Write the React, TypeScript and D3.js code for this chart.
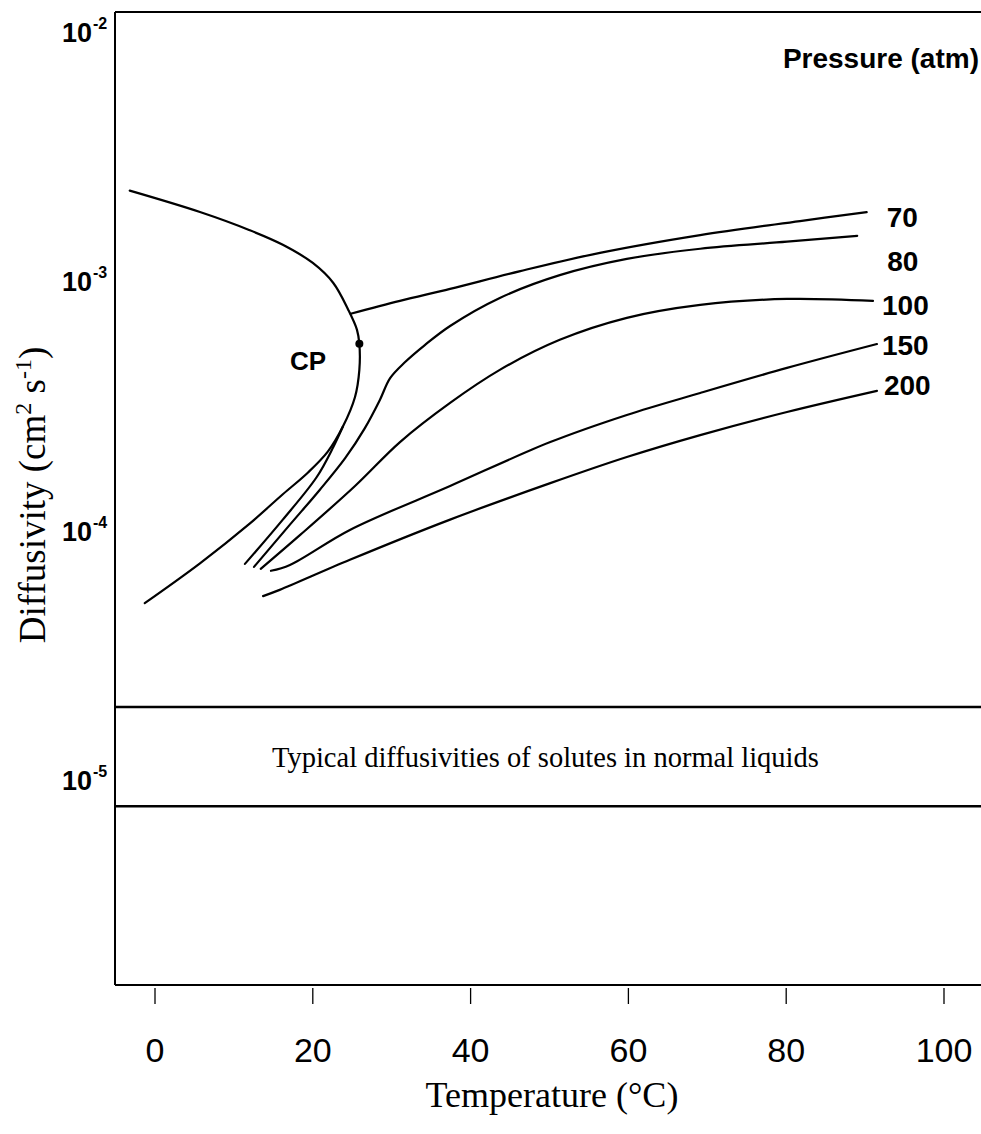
import React from "react";
import * as d3 from "d3";

type Pt = [number, number];

// Axis ticks
const xTicks = [0, 20, 40, 60, 80, 100];
const yDecades = [-2, -3, -4, -5];

// Saturation (vapour/liquid) dome, T (°C), D (cm^2/s)
const saturationCurve: Pt[] = [
  [-3.2, 2.29e-3], [5.7, 1.88e-3], [12.0, 1.59e-3], [16.2, 1.39e-3], [20.0, 1.175e-3],
  [22.6, 9.77e-4], [24.5, 7.62e-4], [25.6, 6.34e-4], [25.9, 5.57e-4], [25.9, 4.38e-4],
  [25.35, 3.41e-4], [23.8, 2.59e-4], [21.9, 2.06e-4], [19.4, 1.70e-4], [16.2, 1.39e-4],
  [12.0, 1.06e-4], [5.7, 7.35e-5], [-1.3, 5.09e-5],
];

// 70 atm: liquid branch (ends on the dome) and vapour branch (starts on the dome)
const liquid70: Pt[] = [
  [11.4, 7.31e-5], [16.2, 1.10e-4], [20.5, 1.63e-4], [22.6, 2.15e-4], [23.8, 2.59e-4],
];
const vapor70: Pt[] = [
  [24.8, 7.35e-4], [31.05, 8.28e-4], [37.4, 9.25e-4], [46.3, 1.09e-3], [56.4, 1.29e-3],
  [69.1, 1.52e-3], [81.75, 1.73e-3], [90.2, 1.88e-3],
];
const p80: Pt[] = [
  [12.55, 7.11e-5], [17.1, 1.05e-4], [20.9, 1.45e-4], [24.1, 1.94e-4], [26.6, 2.56e-4],
  [28.5, 3.32e-4], [29.8, 4.06e-4], [31.7, 4.71e-4], [34.2, 5.51e-4], [37.4, 6.57e-4],
  [43.7, 8.51e-4], [51.3, 1.05e-3], [59.8, 1.22e-3], [69.1, 1.34e-3], [80.1, 1.43e-3],
  [89.0, 1.51e-3],
];
const p100: Pt[] = [
  [13.4, 6.98e-5], [18.4, 9.55e-5], [25.35, 1.50e-4], [31.05, 2.25e-4], [37.4, 3.23e-4],
  [43.7, 4.38e-4], [51.3, 5.78e-4], [59.8, 7.08e-4], [69.1, 7.98e-4], [80.1, 8.43e-4],
  [91.0, 8.28e-4],
];
const p150: Pt[] = [
  [14.7, 6.86e-5], [17.1, 7.24e-5], [24.7, 1.0e-4], [37.4, 1.50e-4], [50.1, 2.25e-4],
  [59.8, 2.89e-4], [69.1, 3.54e-4], [80.1, 4.46e-4], [91.5, 5.56e-4],
];
const p200: Pt[] = [
  [13.7, 5.43e-5], [15.8, 5.75e-5], [24.7, 7.59e-5], [37.4, 1.10e-4], [50.1, 1.54e-4],
  [59.8, 1.96e-4], [69.1, 2.40e-4], [80.1, 2.97e-4], [91.5, 3.61e-4],
];

const pressureLabels = ["70", "80", "100", "150", "200"];
const criticalPoint: Pt = [25.9, 5.57e-4];
const liquidBand = [1.95e-5, 7.8e-6];

export default function App() {
  const W = 981;
  const H = 1134;
  const left = 115, right = 981, top = 12, bottom = 985;

  const x = d3.scaleLinear().domain([-5.07, 104.69]).range([left, right]);
  const y = d3.scaleLog().domain([Math.pow(10, -5.824), Math.pow(10, -1.924)]).range([bottom, top]);

  const line = d3
    .line<Pt>()
    .x((d) => x(d[0]))
    .y((d) => y(d[1]))
    .curve(d3.curveCatmullRom.alpha(0.5));

  const curves = [saturationCurve, liquid70, vapor70, p80, p100, p150, p200];
  const labelled = [vapor70, p80, p100, p150, p200];
  const labelOffsets: Pt[] = [[20, 15], [30, 35], [9, 14], [5, 11], [7, 4]];

  const bold = "Arial, 'Liberation Sans', Helvetica, sans-serif";
  const serif = "'Liberation Serif', 'Times New Roman', serif";

  return (
    <svg
      width={W}
      height={H}
      viewBox={`0 0 ${W} ${H}`}
      style={{ position: "absolute", left: 0, top: 0, background: "#fff" }}
    >
      <rect x={0} y={0} width={W} height={H} fill="#fff" />
      {/* frame */}
      <line x1={left} x2={right} y1={top} y2={top} stroke="#000" strokeWidth={2.2} />
      <line x1={left} x2={left} y1={top} y2={bottom} stroke="#000" strokeWidth={2} />
      <line x1={left} x2={right} y1={bottom} y2={bottom} stroke="#000" strokeWidth={2.2} />

      {/* x ticks */}
      {xTicks.map((t) => (
        <g key={t}>
          <line x1={x(t)} x2={x(t)} y1={bottom + 3} y2={bottom + 19} stroke="#000" strokeWidth={1.3} />
          <text x={x(t)} y={1062} textAnchor="middle" fontFamily={bold} fontSize={34}>
            {t}
          </text>
        </g>
      ))}

      {/* y tick labels */}
      {yDecades.map((k) => {
        const yy = y(Math.pow(10, k)) + 11;
        return (
          <g key={k}>
            <text x={92} y={yy} textAnchor="end" fontFamily={bold} fontWeight="bold" fontSize={27}>
              10
            </text>
            <text x={93} y={yy - 13} fontFamily={bold} fontWeight="bold" fontSize={16}>
              {`-${-k}`}
            </text>
          </g>
        );
      })}

      {/* liquid diffusivity band */}
      {liquidBand.map((v, i) => (
        <line key={i} x1={left} x2={right} y1={y(v)} y2={y(v)} stroke="#000" strokeWidth={2.5} />
      ))}
      <text x={272} y={y(Math.sqrt(liquidBand[0] * liquidBand[1])) + 10} fontFamily={serif} fontSize={28.5}>
        Typical diffusivities of solutes in normal liquids
      </text>

      {/* curves */}
      {curves.map((c, i) => (
        <path key={i} d={line(c) || ""} fill="none" stroke="#000" strokeWidth={2.2} strokeLinecap="round" />
      ))}

      {/* critical point */}
      <circle cx={x(criticalPoint[0])} cy={y(criticalPoint[1])} r={4} fill="#000" />
      <text x={290} y={370} fontFamily={bold} fontWeight="bold" fontSize={26}>
        CP
      </text>

      {/* pressure labels */}
      {labelled.map((c, i) => {
        const end = c[c.length - 1];
        return (
          <text
            key={i}
            x={x(end[0]) + labelOffsets[i][0]}
            y={y(end[1]) + labelOffsets[i][1]}
            fontFamily={bold}
            fontWeight="bold"
            fontSize={28}
          >
            {pressureLabels[i]}
          </text>
        );
      })}
      <text x={979} y={68} textAnchor="end" fontFamily={bold} fontWeight="bold" fontSize={28}>
        Pressure (atm)
      </text>

      {/* axis titles */}
      <text x={552} y={1107} textAnchor="middle" fontFamily={serif} fontSize={36}>
        Temperature (°C)
      </text>
      <text
        transform={`translate(45, 495) rotate(-90)`}
        textAnchor="middle"
        fontFamily={serif}
        fontSize={37}
      >
        Diffusivity (cm
        <tspan dy={-14} fontSize={24}>{"2"}</tspan>
        <tspan dy={14}>{" s"}</tspan>
        <tspan dy={-14} fontSize={24}>{"-1"}</tspan>
        <tspan dy={14}>{")"}</tspan>
      </text>
    </svg>
  );
}
